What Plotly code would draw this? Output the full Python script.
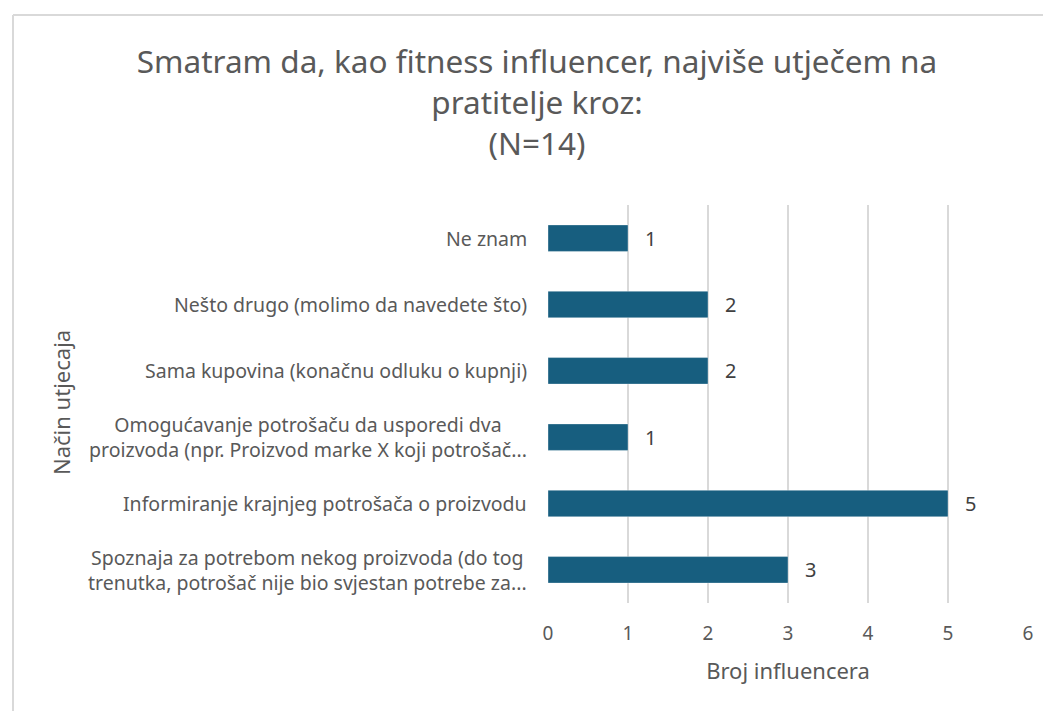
import plotly.graph_objects as go

categories = [
    "Spoznaja za potrebom nekog proizvoda (do tog<br>trenutka, potrošač nije bio svjestan potrebe za...",
    "Informiranje krajnjeg potrošača o proizvodu",
    "Omogućavanje potrošaču da usporedi dva<br>proizvoda (npr. Proizvod marke X koji potrošač...",
    "Sama kupovina (konačnu odluku o kupnji)",
    "Nešto drugo (molimo da navedete što)",
    "Ne znam",
]
values = [3, 5, 1, 2, 2, 1]
x_ticks = [0, 1, 2, 3, 4, 5, 6]

title_text = "Smatram da, kao fitness influencer, najviše utječem na<br>pratitelje kroz:<br>(N=14)"
x_title = "Broj influencera"
y_title = "Način utjecaja"

FONT = "Noto Sans, Open Sans, sans-serif"
BAR = "#175e7f"
TXT = "#595959"

fig = go.Figure()
fig.add_trace(go.Bar(
    x=values, y=categories, orientation="h", width=0.4,
    marker=dict(color=BAR, line=dict(color="rgba(255,255,255,0.35)", width=1)),
    hoverinfo="skip",
))

# page is drawn with an 8px body offset
OFF = 8
W, H = 1051 - OFF, 711 - OFF
L, R, T, B = 548 - OFF, 23, 205 - OFF, 711 - 603
pw, ph = W - L - R, H - T - B

annotations = []
for c, v in zip(categories, values):
    annotations.append(dict(x=v, y=c, xref="x", yref="y", text=str(v), showarrow=False,
                            xanchor="left", xshift=15, font=dict(family=FONT, size=20, color="#404040")))
    annotations.append(dict(x=0, y=c, xref="paper", yref="y", text=c, showarrow=False,
                            xanchor="right", xshift=-19, align="center",
                            font=dict(family=FONT, size=19.5, color=TXT)))

def px_x(px):
    return (px - OFF - L) / pw

def px_y(py):
    return (H - B - (py - OFF)) / ph

shapes = [
    dict(type="line", xref="paper", yref="paper", x0=px_x(13), x1=px_x(1100), y0=px_y(15), y1=px_y(15),
         line=dict(color="#d9d9d9", width=2)),
    dict(type="line", xref="paper", yref="paper", x0=px_x(13), x1=px_x(13), y0=px_y(15), y1=px_y(760),
         line=dict(color="#d9d9d9", width=2)),
]

fig.update_layout(
    width=W, height=H,
    margin=dict(l=L, r=R, t=T, b=B),
    paper_bgcolor="white", plot_bgcolor="white",
    showlegend=False,
    title=dict(text=title_text, x=(537 - OFF) / W, xanchor="center", y=1 - (73 - OFF) / H, yanchor="top",
               font=dict(family=FONT, size=31.5, color=TXT)),
    xaxis=dict(range=[0, 6], tickvals=x_ticks, showgrid=True, gridcolor="#d9d9d9", gridwidth=1.5,
               zeroline=False, showline=False, ticks="", ticklabelstandoff=17,
               tickfont=dict(family=FONT, size=19, color=TXT),
               title=dict(text=x_title, font=dict(family=FONT, size=22, color=TXT), standoff=18)),
    yaxis=dict(showticklabels=False, showgrid=False, zeroline=False, ticks="",
               categoryorder="array", categoryarray=categories, range=[-0.5, 5.5]),
    annotations=annotations + [
        dict(x=px_x(61), y=px_y(403), xref="paper", yref="paper", text=y_title, textangle=-90,
             xanchor="center", yanchor="middle",
             showarrow=False, font=dict(family=FONT, size=22, color=TXT)),
    ],
    shapes=shapes,
)

fig.write_html("out.html")
